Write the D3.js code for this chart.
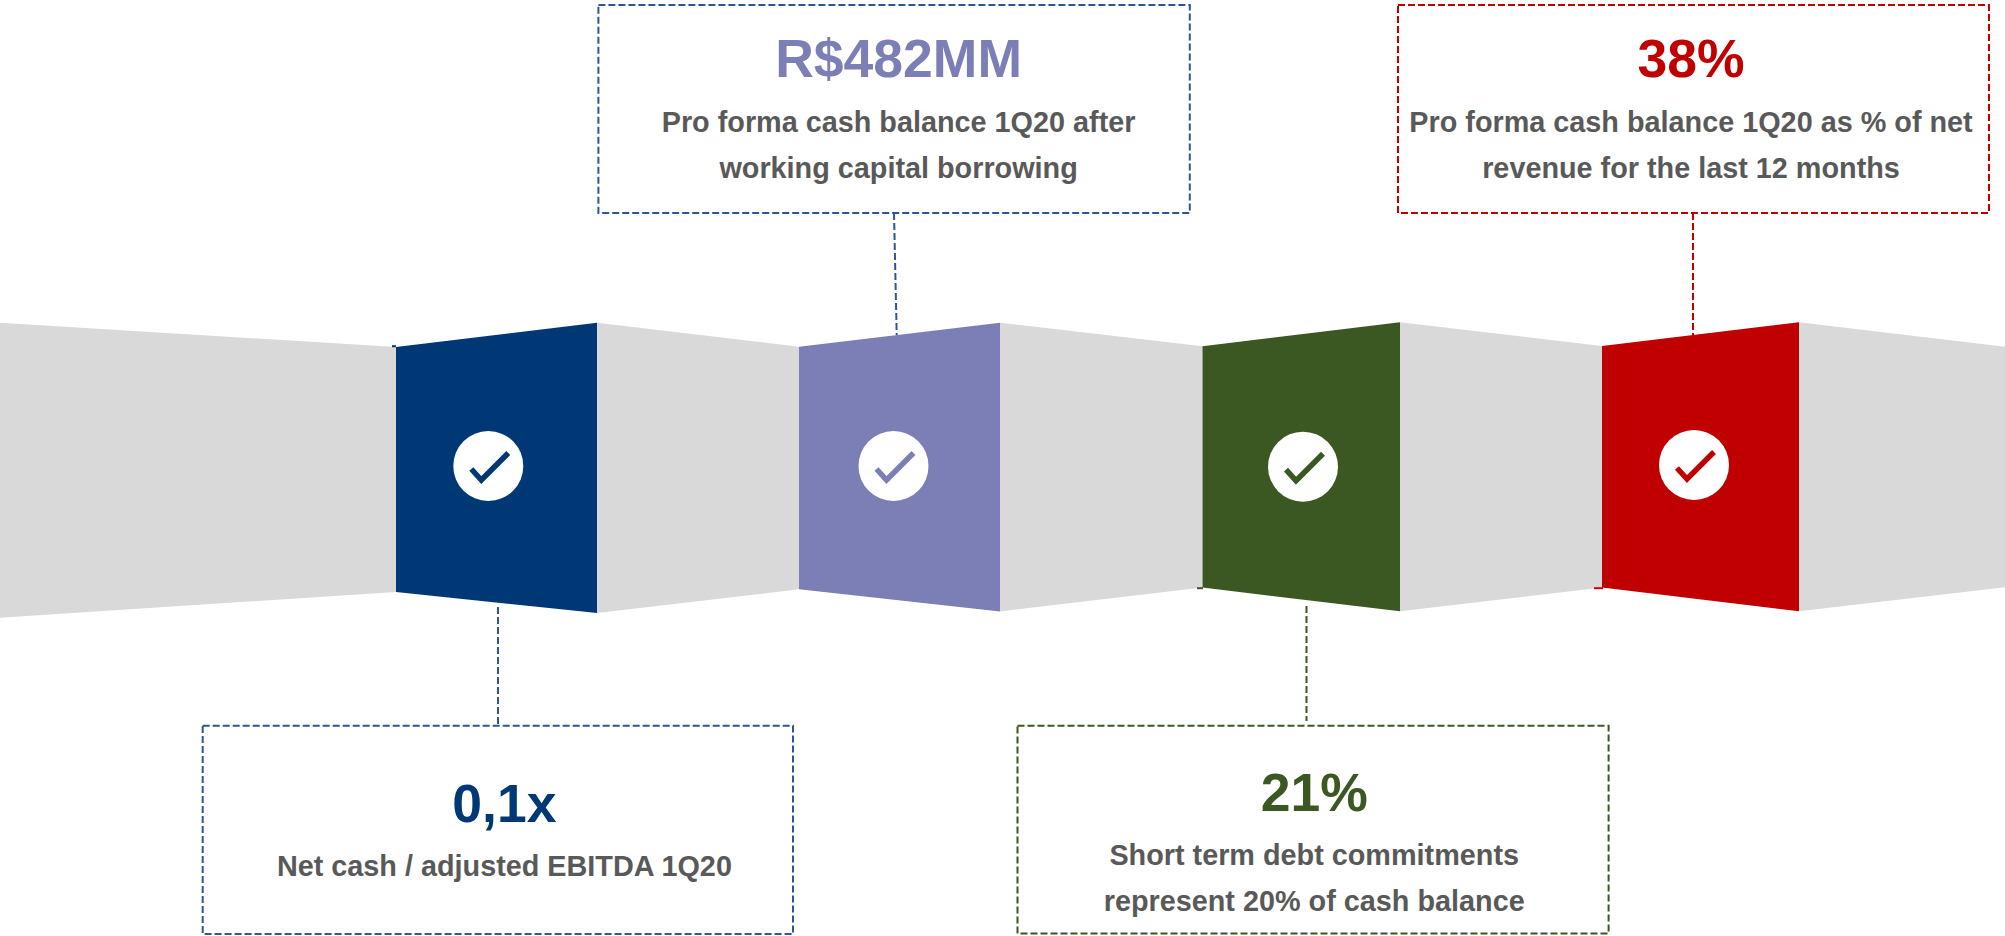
<!DOCTYPE html>
<html>
<head>
<meta charset="utf-8">
<script src="https://cdn.jsdelivr.net/npm/d3@7"></script>
<style>
  html, body { margin: 0; padding: 0; background: #fff; overflow: hidden; }
  svg { display: block; }
  text { font-family: "Liberation Sans", Arial, sans-serif; font-weight: bold; text-anchor: middle; }
</style>
</head>
<body>
<div id="chart"></div>
<script>
// chart content
var metrics  = ['Net cash', 'Pro forma cash', 'Short term debt', 'Cash / revenue'];
var headline = ['0,1x', 'R$482MM', '21%', '38%'];
var captions = [
    ['Net cash / adjusted EBITDA 1Q20'],
    ['Pro forma cash balance 1Q20 after', 'working capital borrowing'],
    ['Short term debt commitments', 'represent 20% of cash balance'],
    ['Pro forma cash balance 1Q20 as % of net', 'revenue for the last 12 months']
];

// colours
var panelColors = ['#003876', '#7c7fb5', '#3b5823', '#c00000'];
var boxColors   = ['#2f5597', '#2f5597', '#3b5823', '#c00000'];
var GREY        = '#d9d9d9';
var TEXT_GREY   = '#595959';

// layout, in page pixels
var W = 2005, H = 936;
var foldPx = [0, 396, 597, 799, 1000, 1202.5, 1400, 1602, 1799, 2005];
var topPx  = [322.7, 347, 322.7, 346.7, 322.7, 346.3, 322.3, 346, 322.3, 346.7];
var botPx  = [617.7, 592, 613, 589.3, 611.5, 587.5, 611.3, 587.5, 611.3, 587.3];
var panelFold = [1, 3, 5, 7];    // each coloured panel starts on this fold

var boxLeft     = [202.7, 598.4, 1017.5, 1398];
var boxRight    = [793, 1189.8, 1608.6, 1989];
var boxTop      = [725.7, 5, 725.7, 5];
var boxBottom   = [934, 213, 933.5, 213];
var connFrom    = [[498, 607], [894, 213], [1306.5, 606], [1693, 213]];
var connTo      = [[498, 725.7], [896.7, 335], [1306.5, 721], [1693, 335]];
var textCenter  = [504.4, 898.6, 1314.2, 1691];
var headBase    = [822.3, 77, 811, 77];
var capBase     = [[876], [131.7, 177.7], [865, 911], [131.7, 177.7]];
var circleX     = [488.3, 893.5, 1303, 1694];
var circleY     = [466, 466, 466.7, 465];
var CIRCLE_R    = 35;
var tickShape   = [[-17, 3], [-7, 14], [20, -13]];
// small overhangs the panels have on their left side
var spurs = [[392, 346.2, 396, 346.2, 0], [1197, 588.2, 1203, 588.2, 2], [1594, 588.2, 1603, 588.2, 3]];

var HEAD_SIZE = 53.5, CAP_SIZE = 28.8;

var foldIndex = d3.range(foldPx.length);
var x    = d3.scaleLinear().domain(foldIndex).range(foldPx);
var yTop = d3.scaleLinear().domain(foldIndex).range(topPx);
var yBot = d3.scaleLinear().domain(foldIndex).range(botPx);

var outline = d3.line();

function stripPath(i) {
    return outline([
        [x(i), yTop(i)], [x(i + 1), yTop(i + 1)],
        [x(i + 1), yBot(i + 1)], [x(i), yBot(i)]
    ]) + 'Z';
}

var svg = d3.select('#chart').append('svg')
    .attr('width', W)
    .attr('height', H)
    .attr('viewBox', [0, 0, W, H]);

// connectors go under the strip
var connectors = svg.append('g').attr('id', 'connectors');
metrics.forEach(function(m, i) {
    connectors.append('line')
        .attr('x1', connFrom[i][0]).attr('y1', connFrom[i][1])
        .attr('x2', connTo[i][0]).attr('y2', connTo[i][1])
        .attr('stroke', boxColors[i])
        .attr('stroke-width', 2)
        .attr('stroke-dasharray', '7 3');
});

// grey folds first, coloured panels on top
svg.append('g').attr('id', 'folds')
    .selectAll('path')
    .data(foldIndex.slice(0, -1).filter(function(i) { return panelFold.indexOf(i) < 0; }))
    .join('path')
    .attr('d', stripPath)
    .attr('fill', GREY);

svg.append('g').attr('id', 'panels')
    .selectAll('path')
    .data(panelFold)
    .join('path')
    .attr('d', stripPath)
    .attr('fill', function(d, i) { return panelColors[i]; });

svg.append('g').attr('id', 'spurs')
    .selectAll('line')
    .data(spurs)
    .join('line')
    .attr('x1', function(d) { return d[0]; })
    .attr('y1', function(d) { return d[1]; })
    .attr('x2', function(d) { return d[2]; })
    .attr('y2', function(d) { return d[3]; })
    .attr('stroke', function(d) { return panelColors[d[4]]; })
    .attr('stroke-width', 2);

// check badges
var badges = svg.append('g').attr('id', 'badges')
    .selectAll('g')
    .data(metrics)
    .join('g')
    .attr('transform', function(d, i) { return 'translate(' + circleX[i] + ',' + circleY[i] + ')'; });

badges.append('circle')
    .attr('r', CIRCLE_R)
    .attr('fill', '#fff');

badges.append('path')
    .attr('d', outline(tickShape))
    .attr('fill', 'none')
    .attr('stroke', function(d, i) { return panelColors[i]; })
    .attr('stroke-width', 5.5);

// callout boxes
var boxes = svg.append('g').attr('id', 'boxes')
    .selectAll('g')
    .data(metrics)
    .join('g');

boxes.append('rect')
    .attr('x', function(d, i) { return boxLeft[i]; })
    .attr('y', function(d, i) { return boxTop[i]; })
    .attr('width', function(d, i) { return boxRight[i] - boxLeft[i]; })
    .attr('height', function(d, i) { return boxBottom[i] - boxTop[i]; })
    .attr('fill', 'none')
    .attr('stroke', function(d, i) { return boxColors[i]; })
    .attr('stroke-width', 2)
    .attr('stroke-dasharray', '7 3');

boxes.append('text')
    .attr('x', function(d, i) { return textCenter[i]; })
    .attr('y', function(d, i) { return headBase[i]; })
    .attr('font-size', HEAD_SIZE)
    .attr('fill', function(d, i) { return panelColors[i]; })
    .text(function(d, i) { return headline[i]; });

boxes.each(function(d, i) {
    d3.select(this).selectAll('text.caption')
        .data(captions[i])
        .join('text')
        .attr('class', 'caption')
        .attr('x', textCenter[i])
        .attr('y', function(line, j) { return capBase[i][j]; })
        .attr('font-size', CAP_SIZE)
        .attr('fill', TEXT_GREY)
        .text(function(line) { return line; });
});
</script>
</body>
</html>
